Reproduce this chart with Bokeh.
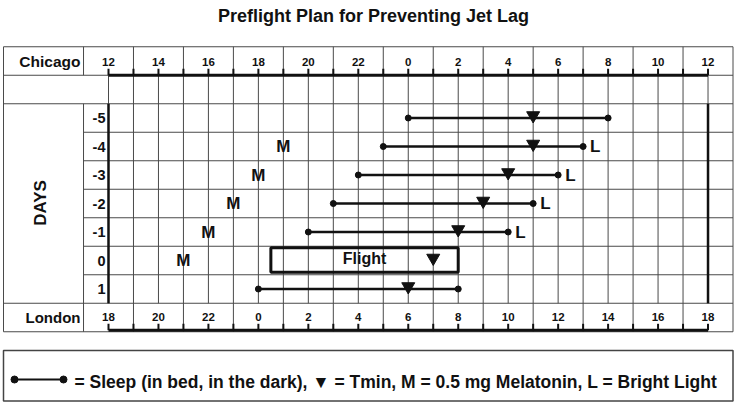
import numpy as np
from bokeh.plotting import figure
from bokeh.models import Range1d
from bokeh.core.properties import value
from bokeh.embed import file_html
from bokeh.resources import INLINE

# ---------------- data ----------------
title_text = "Preflight Plan for Preventing Jet Lag"
days = [-5, -4, -3, -2, -1, 0, 1]
day_labels = ["-5", "-4", "-3", "-2", "-1", "0", "1"]
chicago_ticks = ["12", "14", "16", "18", "20", "22", "0", "2", "4", "6", "8", "10", "12"]
london_ticks = ["18", "20", "22", "0", "2", "4", "6", "8", "10", "12", "14", "16", "18"]
sleep_days = [-5, -4, -3, -2, -1, 1]
sleep_start = [0, 23, 22, 21, 20, 18]      # Chicago clock hour
sleep_end = [8, 7, 6, 5, 4, 2]
tmin_days = [-5, -4, -3, -2, -1, 0, 1]
tmin_clock = [5, 5, 4, 3, 2, 1, 0]
mel_days = [-4, -3, -2, -1, 0]
mel_clock = [19, 18, 17, 16, 15]
light_days = [-4, -3, -2, -1]
light_clock = [7, 6, 5, 4]
flight_day = [0]
flight_start = [18.5]
flight_end = [2]
flight_label = ["Flight"]
legend_text = "= Sleep (in bed, in the dark),  \u25BC = Tmin,  M = 0.5 mg Melatonin,  L = Bright Light"


def hrs(clock):
    """Chicago clock hour -> hours after Chicago noon (axis coordinate)."""
    return (np.asarray(clock, dtype=float) - 12.0) % 24.0


# ---------------- layout ----------------
W, H = 734, 402
ORG = 1.0                     # screen pixel of the frame's top-left
PX0, PPH = 109.0, 24.98       # pixel of Chicago 12:00, pixels per hour
ROW0, RH = 118.5, 28.5        # pixel of day -5 centre, row height


def X(px):
    return (px - PX0) / PPH


def Y(py):
    return (py - ROW0) / RH - 5


FONT = value("Liberation Sans")
INK = "#111111"
GRID = "#4a4a4a"

p = figure(width=W, height=H, output_backend="svg", toolbar_location=None,
           x_range=Range1d(X(ORG), X(ORG + W)), y_range=Range1d(Y(ORG + H), Y(ORG)),
           x_axis_location=None, y_axis_location=None, min_border=0)
p.outline_line_color = None
p.xgrid.visible = False
p.ygrid.visible = False
p.background_fill_color = "white"
p.border_fill_color = "white"

XL = X(4)
XR = 25

# horizontal table lines
full_rows = [-7.5, -6.5, -5.5, 1.5, 2.5]
p.segment(x0=[XL] * len(full_rows), x1=[XR] * len(full_rows), y0=full_rows, y1=full_rows,
          line_color=GRID, line_width=1)
inner_rows = list(np.arange(-4.5, 1.0, 1.0))
p.segment(x0=[-1] * len(inner_rows), x1=[XR] * len(inner_rows), y0=inner_rows, y1=inner_rows,
          line_color=GRID, line_width=1)

# vertical table lines
p.segment(x0=[XL], x1=[XL], y0=[-7.5], y1=[2.5], line_color=GRID, line_width=1)
p.segment(x0=[-1, -1], x1=[-1, -1], y0=[-7.5, -5.5], y1=[-6.5, 2.5], line_color=GRID, line_width=1)
p.segment(x0=[XR], x1=[XR], y0=[-7.5], y1=[2.5], line_color=GRID, line_width=1)
hh = np.arange(0, 25)
odd = hh[hh % 2 == 1]
even = hh[hh % 2 == 0]
p.segment(x0=odd, x1=odd, y0=[-7.5] * len(odd), y1=[2.5] * len(odd), line_color=GRID, line_width=1)
p.segment(x0=even, x1=even, y0=[-6.5] * len(even), y1=[1.5] * len(even), line_color=GRID, line_width=1)

# thick axes
top_y = -6.5
bot_y = Y(330.8)
p.segment(x0=[0], x1=[24], y0=[top_y], y1=[top_y], line_color=INK, line_width=3)
p.segment(x0=[0], x1=[24], y0=[bot_y], y1=[bot_y], line_color=INK, line_width=3)
p.segment(x0=[0, 24], x1=[0, 24], y0=[-5.5, -5.5], y1=[1.5, 1.5], line_color=INK, line_width=2.5)
tick = 6.5 / RH
p.segment(x0=hh, x1=hh, y0=[top_y] * len(hh), y1=[top_y - tick] * len(hh), line_color=INK, line_width=2)
p.segment(x0=hh, x1=hh, y0=[bot_y] * len(hh), y1=[bot_y - tick] * len(hh), line_color=INK, line_width=2)

# tick labels
tick_pos = np.arange(len(chicago_ticks)) * 2
p.text(x=tick_pos, y=[Y(62.5)] * len(tick_pos), text=chicago_ticks, text_font=FONT,
       text_font_style="bold", text_font_size="11.5px", text_align="center",
       text_baseline="middle", text_color=INK)
p.text(x=tick_pos, y=[Y(317)] * len(tick_pos), text=london_ticks, text_font=FONT,
       text_font_style="bold", text_font_size="11.5px", text_align="center",
       text_baseline="middle", text_color=INK)

# row / column labels
p.text(x=[X(81)], y=[-7], text=["Chicago"], text_font=FONT,
       text_font_style="bold", text_font_size="15.5px", text_align="right",
       text_baseline="middle", text_color=INK)
p.text(x=[X(81)], y=[2], text=["London"], text_font=FONT,
       text_font_style="bold", text_font_size="15px", text_align="right",
       text_baseline="middle", text_color=INK)
p.text(x=[X(106)] * len(days), y=days, text=day_labels, text_font=FONT,
       text_font_style="bold", text_font_size="14.5px", text_align="right",
       text_baseline="middle", text_color=INK)
p.text(x=[X(41)], y=[Y(203.5)], text=["DAYS"], angle=np.pi / 2, text_font=FONT,
       text_font_style="bold", text_font_size="17px", text_align="center",
       text_baseline="middle", text_color=INK)

# title
p.text(x=[X(374)], y=[Y(16)], text=[title_text], text_font=FONT, text_font_style="bold",
       text_font_size="18px", text_align="center", text_baseline="middle", text_color=INK)

# sleep bars
s0 = hrs(sleep_start)
s1 = hrs(sleep_end)
p.segment(x0=s0, x1=s1, y0=sleep_days, y1=sleep_days, line_color=INK, line_width=2.5)
p.scatter(x=np.concatenate([s0, s1]), y=sleep_days + sleep_days, marker="circle", size=6,
          fill_color=INK, line_color=INK)

# flight box
p.quad(left=hrs(flight_start), right=hrs(flight_end), top=[d - 0.45 for d in flight_day],
       bottom=[d + 0.41 for d in flight_day], fill_color=None, line_color=INK, line_width=3)
p.text(x=(hrs(flight_start) + hrs(flight_end)) / 2, y=[d - 0.07 for d in flight_day],
       text=flight_label, text_font=FONT, text_font_style="bold", text_font_size="16px",
       text_align="center", text_baseline="middle", text_color=INK)

# Tmin
p.scatter(x=hrs(tmin_clock), y=[d - 2.5 / RH for d in tmin_days], marker="inverted_triangle",
          size=13, fill_color=INK, line_color=INK)

# Melatonin & light
p.text(x=hrs(mel_clock), y=mel_days, text=["M"] * len(mel_days), text_font=FONT,
       text_font_style="bold", text_font_size="17px", text_align="center",
       text_baseline="middle", text_color=INK)
p.text(x=hrs(light_clock), y=light_days, text=["L"] * len(light_days), text_font=FONT,
       text_font_style="bold", text_font_size="17px", text_align="left", x_offset=7,
       text_baseline="middle", text_color=INK)

# legend box
p.quad(left=[X(4)], right=[X(733.5)], top=[Y(351)], bottom=[Y(401.5)], fill_color=None,
       line_color="#444444", line_width=1.5)
p.segment(x0=[X(15)], x1=[X(64)], y0=[Y(380)], y1=[Y(380)], line_color=INK, line_width=2)
p.scatter(x=[X(15), X(64)], y=[Y(380), Y(380)], marker="circle", size=7, fill_color=INK,
          line_color=INK)
p.text(x=[X(75)], y=[Y(382)], text=[legend_text], text_font=FONT, text_font_style="bold",
       text_font_size="17.5px", text_align="left", text_baseline="middle", text_color=INK)

open("out.html", "w").write(file_html(p, INLINE))
